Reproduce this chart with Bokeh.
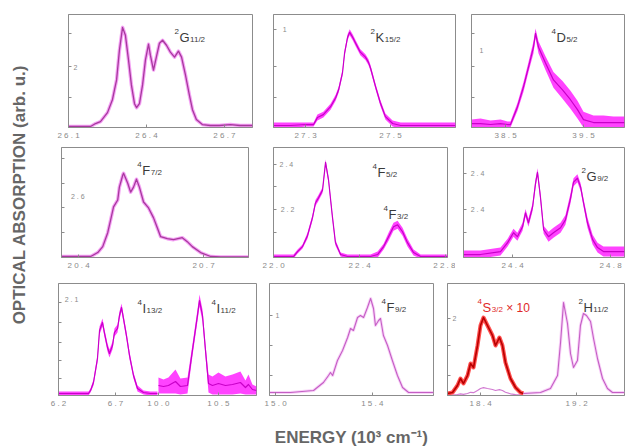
import math
from bokeh.plotting import figure
from bokeh.models import Range1d, FixedTicker, Label
from bokeh.layouts import row, column
from bokeh.embed import file_html
from bokeh.resources import INLINE

FONT = "Liberation Sans"
FRAME_C = "#8c8c8c"
TICKLBL_C = "#8a8a8a"
TERM_C = "#3a3a3a"

# ---------------- data (energy in 10^3 cm^-1, absorption in arb. u.) ----------------
# 2G11/2
g11_e = [26.100, 26.185, 26.204, 26.223, 26.250, 26.269, 26.285, 26.296, 26.308, 26.319,
         26.331, 26.342, 26.354, 26.362, 26.373, 26.385, 26.396, 26.408, 26.415, 26.427,
         26.438, 26.450, 26.462, 26.477, 26.492, 26.508, 26.523, 26.535, 26.550, 26.565,
         26.577, 26.592, 26.615, 26.646, 26.680, 26.723, 26.760, 26.808]
g11_a = [1, 1, 4, 6, 15, 28, 48, 78, 101, 93, 68, 43, 24, 20, 24, 43, 68, 84, 73, 58,
         71, 85, 88, 83, 76, 71, 77, 71, 53, 33, 18, 8, 3, 2, 2, 3, 2, 2]

# 2K15/2
k15_e = [27.225, 27.265, 27.300, 27.319, 27.328, 27.342, 27.359, 27.371, 27.378, 27.387,
         27.392, 27.399, 27.404, 27.411, 27.418, 27.429, 27.441, 27.448, 27.453, 27.465,
         27.476, 27.488, 27.505, 27.524, 27.571, 27.618, 27.653]
k15_a = [2, 2, 3, 3, 10, 13, 21, 30, 38, 55, 75, 91, 96, 91, 85, 76, 71, 66, 60, 41,
         25, 11, 4, 2, 2, 2, 2]
k15_noise = [3, 3, 2, 2, 3, 3, 3, 3, 3, 3, 3, 3, 3, 3, 3, 3, 3, 3, 3, 3, 3, 3, 3, 3, 3, 3, 3]

# 4D5/2
d5_e = [38.064, 38.179, 38.308, 38.436, 38.526, 38.564, 38.654, 38.731, 38.795, 38.859,
        38.885, 38.923, 39.013, 39.115, 39.231, 39.333, 39.423, 39.500, 39.628, 39.756,
        39.885, 40.026]
d5_a = [4, 4, 3, 4, 3, 3, 21, 41, 61, 81, 95, 81, 65, 48, 38, 28, 18, 8, 5, 5, 5, 5]
d5_noise = [4, 5, 4, 4, 3, 3, 4, 5, 5, 6, 5, 6, 7, 8, 9, 9, 9, 8, 7, 7, 6, 6]

# 4F7/2
f7_e = [20.359, 20.429, 20.446, 20.458, 20.470, 20.477, 20.484, 20.494, 20.498, 20.506,
        20.508, 20.518, 20.525, 20.532, 20.539, 20.546, 20.556, 20.568, 20.580, 20.589,
        20.597, 20.613, 20.628, 20.649, 20.661, 20.673, 20.693, 20.717, 20.741, 20.777, 20.808]
f7_a = [1, 1, 5, 11, 25, 38, 51, 58, 71, 83, 85, 75, 66, 71, 79, 71, 56, 50, 40, 30,
        21, 19, 18, 20, 16, 11, 5, 1, 0.5, 0.5, 0.5]

# 4F5/2 + 4F3/2
f53_e = [22.000, 22.093, 22.112, 22.135, 22.158, 22.181, 22.195, 22.209, 22.228, 22.242,
         22.256, 22.274, 22.288, 22.312, 22.344, 22.405, 22.451, 22.484, 22.512, 22.535,
         22.558, 22.577, 22.600, 22.623, 22.651, 22.684, 22.744, 22.809]
f53_a = [1, 1, 6, 11, 22, 40, 55, 60, 68, 96, 78, 41, 15, 3, 1, 1, 1, 3, 11, 21,
         31, 33, 26, 15, 5, 1, 1, 1]
f53_noise = [2, 2, 2, 2, 3, 3, 3, 3, 3, 3, 3, 3, 3, 2, 2, 2, 2, 3, 3, 4, 4, 4, 4, 4, 3, 2, 2, 2]

# 2G9/2
g9_e = [24.200, 24.269, 24.351, 24.380, 24.404, 24.420, 24.441, 24.453, 24.465, 24.482,
        24.494, 24.502, 24.514, 24.527, 24.547, 24.567, 24.596, 24.616, 24.637, 24.649,
        24.665, 24.678, 24.690, 24.706, 24.727, 24.747, 24.771, 24.808, 24.857]
g9_a = [3, 3, 6, 15, 25, 21, 31, 45, 35, 51, 75, 86, 61, 28, 21, 25, 30, 38, 60, 76,
        80, 71, 55, 35, 18, 10, 6, 6, 6]
g9_noise = [4, 4, 4, 4, 4, 4, 4, 4, 4, 4, 4, 4, 4, 4, 5, 5, 5, 5, 5, 4, 4, 4, 4, 5, 5, 5, 5, 5, 5]

# 4I13/2 (left part of broken axis)
i13_e = [6.200, 6.463, 6.481, 6.507, 6.542, 6.560, 6.586, 6.604, 6.630, 6.647, 6.674, 6.691,
         6.718, 6.735, 6.753, 6.770, 6.796, 6.823, 6.858, 6.893, 6.946, 7.007, 7.068]
i13_a = [2, 2, 5, 13, 37, 65, 73, 62, 48, 42, 50, 63, 67, 80, 88, 77, 60, 40, 20, 7, 3, 2, 2]
i13_noise = [2, 2, 2, 3, 4, 4, 4, 4, 4, 4, 4, 4, 4, 4, 4, 4, 4, 4, 3, 3, 2, 2, 2]

# 4I11/2 (right part of broken axis)
i11_e = [10.000, 10.042, 10.083, 10.142, 10.183, 10.242, 10.283, 10.325, 10.342, 10.367,
         10.392, 10.417, 10.450, 10.500, 10.558, 10.617, 10.683, 10.725, 10.750, 10.783, 10.817]
i11_a = [10, 9, 10, 14, 9, 10, 45, 80, 95, 80, 45, 12, 10, 12, 10, 11, 13, 8, 11, 6, 5]
i11_noise = [8, 7, 8, 12, 8, 8, 6, 6, 6, 6, 6, 9, 9, 11, 9, 10, 11, 7, 10, 5, 4]

# 4F9/2
f9_e = [14.975, 15.062, 15.157, 15.198, 15.219, 15.227, 15.236, 15.256, 15.277, 15.298,
        15.310, 15.322, 15.339, 15.351, 15.364, 15.380, 15.393, 15.405, 15.413, 15.426,
        15.434, 15.446, 15.463, 15.483, 15.504, 15.525, 15.550, 15.599, 15.653]
f9_a = [3, 3, 5, 13, 20, 23, 20, 35, 45, 58, 67, 65, 78, 80, 78, 88, 97, 87, 70, 75,
        77, 60, 50, 35, 20, 8, 3, 3, 3]

# 4S3/2 (shown x10) and 2H11/2
s3_e = [18.125, 18.167, 18.208, 18.233, 18.258, 18.292, 18.317, 18.342, 18.375, 18.400,
        18.425, 18.458, 18.500, 18.525, 18.558, 18.583, 18.608, 18.650, 18.692, 18.733, 18.758]
s3_a_x10 = [2, 3, 10, 17, 12, 20, 32, 28, 50, 70, 78, 70, 60, 50, 58, 50, 33, 17, 8, 3, 2]
s3_scale = 10
h11_e = [18.758, 18.900, 18.983, 19.042, 19.067, 19.092, 19.125, 19.150, 19.175, 19.208,
         19.233, 19.258, 19.283, 19.317, 19.342, 19.375, 19.417, 19.458, 19.500, 19.600]
h11_a = [2, 3, 7, 20, 53, 93, 72, 42, 28, 35, 70, 82, 80, 74, 57, 37, 17, 7, 3, 3]

# axis tick values and their (spaced) labels
t_g11 = [26.1, 26.4, 26.7];   l_g11 = ["2 6 . 1", "2 6 . 4", "2 6 . 7"]
t_k15 = [27.3, 27.5];         l_k15 = ["2 7 . 3", "2 7 . 5"]
t_d5 = [38.5, 39.5];          l_d5 = ["3 8 . 5", "3 9 . 5"]
t_f7 = [20.4, 20.7];          l_f7 = ["2 0 . 4", "2 0 . 7"]
t_f53 = [22.0, 22.4, 22.8];   l_f53 = ["2 2 . 0", "2 2 . 4", "2 2 . 8"]
t_g9 = [24.4, 24.8];          l_g9 = ["2 4 . 4", "2 4 . 8"]
t_i13 = [6.2, 6.7];           l_i13 = ["6 . 2", "6 . 7"]
t_i11 = [10.0, 10.5];         l_i11 = ["1 0 . 0", "1 0 . 5"]
t_f9 = [15.0, 15.4];          l_f9 = ["1 5 . 0", "1 5 . 4"]
t_sh = [18.4, 19.2];          l_sh = ["1 8 . 4", "1 9 . 2"]

MAIN_W = {"G": 0.778, "K": 0.667, "D": 0.722, "F": 0.611, "I": 0.278, "S": 0.667, "H": 0.722}


def make_panel(width, height, borders, xr, yr, xticks, xlabels, yticks):
    l, r, t, b = borders
    p = figure(width=width, height=height, x_range=Range1d(*xr), y_range=Range1d(*yr),
               output_backend="svg", toolbar_location=None,
               min_border_left=l, min_border_right=r, min_border_top=t, min_border_bottom=b)
    p.grid.visible = False
    p.outline_line_color = FRAME_C
    p.outline_line_width = 1
    xa = p.xaxis[0]
    xa.ticker = FixedTicker(ticks=xticks)
    xa.major_label_overrides = dict(zip(xticks, xlabels))
    xa.minor_tick_line_color = None
    xa.major_tick_in = 3
    xa.major_tick_out = 0
    xa.major_tick_line_color = FRAME_C
    xa.axis_line_color = FRAME_C
    xa.major_label_text_font_size = "8px"
    xa.major_label_text_color = TICKLBL_C
    xa.major_label_text_font = FONT
    xa.major_label_standoff = 3
    ya = p.yaxis[0]
    ya.ticker = FixedTicker(ticks=yticks)
    ya.minor_tick_line_color = None
    ya.major_tick_in = 3
    ya.major_tick_out = 0
    ya.major_tick_line_color = FRAME_C
    ya.axis_line_color = FRAME_C
    ya.major_label_text_color = None
    ya.major_label_text_font_size = "1px"
    ya.major_label_standoff = 0
    return p


def draw_smooth(p, x, y, halo, core, hw=3.5, cw=1.3, halo_alpha=0.7, **kw):
    p.line(x, y, line_color=halo, line_width=hw, line_alpha=halo_alpha, line_join="round", **kw)
    p.line(x, y, line_color=core, line_width=cw, line_join="round", **kw)


def draw_noisy(p, x, y, spread, **kw):
    lower = [a - s for a, s in zip(y, spread)]
    upper = [a + s for a, s in zip(y, spread)]
    p.varea(x=x, y1=lower, y2=upper, fill_color="#ff22ff", fill_alpha=0.85, **kw)
    p.line(x, y, line_color="#c800c8", line_width=1.2, line_join="round", **kw)


def term(p, x, y, sup, main, sub, color=TERM_C, extra=None):
    mw = MAIN_W[main] * 13
    p.add_layout(Label(x=x, y=y, x_offset=-5, y_offset=6, text=sup, text_font=FONT,
                       text_font_size="8px", text_color=color, text_baseline="alphabetic"))
    p.add_layout(Label(x=x, y=y, text=main, text_font=FONT, text_font_size="13px",
                       text_color=color, text_baseline="alphabetic"))
    p.add_layout(Label(x=x, y=y, x_offset=mw + 0.5, y_offset=-2, text=sub, text_font=FONT,
                       text_font_size="8px", text_color=color, text_baseline="alphabetic"))
    if extra:
        p.add_layout(Label(x=x, y=y, x_offset=mw + 15, y_offset=0, text=extra, text_font=FONT,
                           text_font_size="12px", text_color=color, text_baseline="alphabetic"))


def ylab(p, x, y, text):
    p.add_layout(Label(x=x, y=y, text=text, text_font=FONT, text_font_size="7px",
                       text_color="#8a8a8a", text_align="center", text_baseline="middle"))


SOLID_HALO, SOLID_CORE = "#f07af0", "#a8389e"
THIN_HALO, THIN_CORE = "#f4b4f4", "#c45ec4"

# ---------------- row 1 ----------------
Y1 = (0, 114)
p11 = make_panel(222, 142, (28, 10, 14, 14), (26.1, 26.808), Y1, t_g11, l_g11, [30, 62, 95])
draw_smooth(p11, g11_e, g11_a, SOLID_HALO, SOLID_CORE)
term(p11, 26.527, 91, "2", "G", "11/2")
ylab(p11, 26.127, 61, "2")

p12 = make_panel(201, 142, (11, 8, 14, 14), (27.2247, 27.653), Y1, t_k15, l_k15, [30, 62, 99])
draw_noisy(p12, k15_e, k15_a, k15_noise)
term(p12, 27.465, 91, "2", "K", "15/2")
ylab(p12, 27.251, 99, "1")

p13 = make_panel(164, 142, (8, 3, 14, 14), (38.064, 40.026), Y1, t_d5, l_d5, [30, 62, 95])
draw_noisy(p13, d5_e, d5_a, d5_noise)
term(p13, 39.154, 91, "4", "D", "5/2")
ylab(p13, 38.192, 78, "1")

# ---------------- row 2 ----------------
Y2 = (0, 111)
p21 = make_panel(220, 130, (21, 12, 5, 14), (20.359, 20.808), Y2, t_f7, l_f7, [25, 50, 75, 100])
draw_smooth(p21, f7_e, f7_a, SOLID_HALO, SOLID_CORE)
term(p21, 20.553, 88, "4", "F", "7/2")
ylab(p21, 20.398, 62, "2 . 6")

p22 = make_panel(195, 130, (13, 8, 5, 14), (22.0, 22.809), Y2, t_f53, l_f53, [25, 48, 72, 94])
draw_noisy(p22, f53_e, f53_a, f53_noise)
term(p22, 22.484, 86, "4", "F", "5/2")
term(p22, 22.535, 43, "4", "F", "3/2")
ylab(p22, 22.060, 94, "2 . 4")
ylab(p22, 22.065, 48, "2 . 2")

p23 = make_panel(172, 130, (8, 3, 5, 14), (24.2, 24.857), Y2, t_g9, l_g9, [25, 48, 85])
draw_noisy(p23, g9_e, g9_a, g9_noise)
term(p23, 24.702, 82, "2", "G", "9/2")
ylab(p23, 24.257, 85, "2 . 4")
ylab(p23, 24.257, 48, "2 . 4")

# ---------------- row 3 ----------------
Y3 = (0, 112)
A_RANGE = (6.2, 7.937)
B_RANGE = (9.167, 10.817)
b_as_a = [A_RANGE[0] + (v - B_RANGE[0]) * (A_RANGE[1] - A_RANGE[0]) / (B_RANGE[1] - B_RANGE[0])
          for v in t_i11]
p31 = make_panel(223, 138, (18, 7, 11, 15), A_RANGE, Y3, t_i13 + b_as_a, l_i13 + l_i11,
                 [17, 35, 53, 73, 93])
p31.extra_x_ranges = {"b": Range1d(*B_RANGE)}
draw_noisy(p31, i13_e, i13_a, i13_noise)
draw_noisy(p31, i11_e, i11_a, i11_noise, x_range_name="b")
term(p31, 6.937, 87, "4", "I", "13/2")
term(p31, 7.586, 87, "4", "I", "11/2")
ylab(p31, 6.314, 96, "2 . 1")

p32 = make_panel(177, 138, (6, 7, 11, 15), (14.975, 15.653), Y3, t_f9, l_f9, [20, 50, 80])
draw_smooth(p32, f9_e, f9_a, THIN_HALO, THIN_CORE, hw=3, cw=1.1, halo_alpha=0.6)
term(p32, 15.459, 88, "4", "F", "9/2")
ylab(p32, 15.008, 80, "1")

p33 = make_panel(187, 138, (7, 3, 11, 15), (18.125, 19.6), Y3, t_sh, l_sh, [20, 50, 77])
s3_raw = [v / s3_scale for v in s3_a_x10]
p33.line(s3_e, s3_raw, line_color="#d27ad2", line_width=1.2)
draw_smooth(p33, s3_e, s3_a_x10, "#ff3030", "#b80000", hw=4, cw=1.6, halo_alpha=0.85)
draw_smooth(p33, h11_e, h11_a, THIN_HALO, THIN_CORE, hw=3, cw=1.1, halo_alpha=0.6)
term(p33, 18.417, 88, "4", "S", "3/2", color="#e02828", extra="\u00d7 10")
term(p33, 19.258, 88, "2", "H", "11/2")
ylab(p33, 18.183, 77, "2")

# ---------------- axis titles ----------------
tv = figure(width=40, height=410, x_range=Range1d(0, 40), y_range=Range1d(0, 410),
            output_backend="svg", toolbar_location=None, min_border=0,
            x_axis_location=None, y_axis_location=None)
tv.grid.visible = False
tv.outline_line_color = None
tv.add_layout(Label(x=19, y=216, text="OPTICAL ABSORPTION (arb. u.)", angle=math.pi / 2,
                    text_align="center", text_baseline="middle", text_font=FONT,
                    text_font_size="17px", text_font_style="bold", text_color="#666666"))

tb = figure(width=627, height=37, x_range=Range1d(0, 627), y_range=Range1d(0, 37),
            output_backend="svg", toolbar_location=None, min_border=0,
            x_axis_location=None, y_axis_location=None)
tb.grid.visible = False
tb.outline_line_color = None
tb.add_layout(Label(x=351, y=10, text="ENERGY (10\u00b3 cm\u207b\u00b9)", text_align="center",
                    text_baseline="middle", text_font=FONT, text_font_size="17px",
                    text_font_style="bold", text_color="#666666"))

layout = column(
    row(tv, column(row(p11, p12, p13), row(p21, p22, p23), row(p31, p32, p33))),
    tb,
)

open("out.html", "w").write(file_html(layout, INLINE))
